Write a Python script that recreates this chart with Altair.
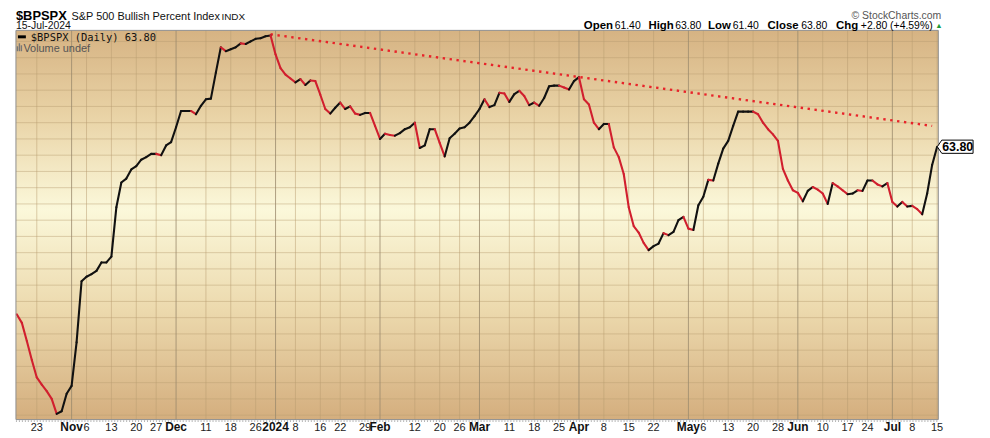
import altair as alt
import pandas as pd

# ---------------- data ----------------
start_idx = -4  # trading-day index of first close (Oct 17, 2023); 0 = Oct 23, 2023
closes = [
    38.0, 36.7, 33.9, 31.0, 28.3, 27.2, 26.2, 25.0, 22.7, 23.1,
    25.8, 27.0, 33.7, 43.1, 43.8, 44.2, 44.7, 46.0, 46.0, 46.9,
    54.5, 58.3, 58.9, 60.3, 60.8, 61.8, 62.2, 62.7, 62.7, 62.5,
    64.0, 64.5, 66.8, 69.3, 69.3, 69.3, 68.8, 70.1, 71.1, 71.2,
    75.2, 79.1, 78.5, 78.8, 79.1, 79.7, 79.6, 80.0, 80.4, 80.5,
    80.8, 80.9, 78.0, 75.9, 74.9, 74.3, 73.7, 74.2, 73.3, 74.0,
    73.9, 71.8, 69.6, 68.9, 69.8, 70.6, 69.6, 70.0, 68.9, 68.7,
    69.0, 69.0, 67.0, 65.0, 65.8, 65.6, 65.5, 65.9, 66.5, 66.8,
    67.5, 63.6, 64.0, 66.5, 66.5, 64.4, 62.3, 65.1, 65.8, 66.6,
    66.8, 67.5, 68.5, 69.6, 71.1, 69.9, 70.2, 72.1, 72.0, 70.7,
    71.9, 72.4, 71.6, 70.2, 70.6, 70.1, 71.3, 73.1, 73.2, 73.2,
    72.9, 72.6, 73.9, 74.5, 71.1, 70.3, 67.5, 66.5, 67.3, 67.3,
    63.7, 62.2, 59.6, 54.5, 51.6, 50.6, 49.0, 47.9, 48.5, 48.9,
    50.5, 50.2, 50.7, 52.5, 53.0, 51.2, 51.0, 54.8, 56.1, 58.7,
    58.6, 61.2, 63.5, 64.7, 67.0, 69.2, 69.2, 69.2, 69.2, 68.8,
    67.5, 66.5, 65.7, 64.7, 60.4, 58.6, 57.1, 56.7, 55.4, 57.0,
    57.6, 57.2, 56.6, 55.0, 58.2, 57.7, 57.1, 56.5, 56.6, 57.1,
    57.0, 58.6, 58.6, 58.0, 57.7, 58.2, 55.3, 54.6, 55.3, 54.6,
    54.7, 54.2, 53.4, 56.6, 61.0, 63.8,
]

tick_idx = [0, 7, 10, 15, 20, 24, 28, 34, 39, 44, 48, 52, 57, 61, 66, 69, 76, 81, 85,
            89, 95, 100, 105, 109, 114, 119, 124, 131, 134, 139, 144, 149, 153, 158,
            163, 167, 172, 176, 181]
tick_lab = ["23", "Nov", "6", "13", "20", "27", "Dec", "11", "18", "26", "2024", "8",
            "16", "22", "29", "Feb", "12", "20", "26", "Mar", "11", "18", "25", "Apr",
            "8", "15", "22", "May", "6", "13", "20", "28", "Jun", "10", "17", "24",
            "Jul", "8", "15"]
month_labels = ["Nov", "Dec", "2024", "Feb", "Mar", "Apr", "May", "Jun", "Jul"]

y_ticks = [22.5, 25.0, 27.5, 30.0, 32.5, 35.0, 37.5, 40.0, 42.5, 45.0, 47.5, 50.0,
           52.5, 55.0, 57.5, 60.0, 62.5, 65.0, 67.5, 70.0, 72.5, 75.0, 77.5, 80.0]

trend_x = [47, 180]
trend_y = [81.1, 67.0]

last_close = 63.80

# ---------------- layout ----------------
W, H = 929, 392
XDOM = [-4.19, 181.24]
YDOM = [21.82, 81.70]
FONT = "Liberation Sans"
RED = "#d11f2e"

xs = alt.Scale(domain=XDOM, nice=False, zero=False)
ys = alt.Scale(domain=YDOM, nice=False, zero=False)

idx = list(range(start_idx, start_idx + len(closes)))
seg = pd.DataFrame({
    "x": idx[:-1], "x2": idx[1:],
    "y": closes[:-1], "y2": closes[1:],
})
seg["dir"] = ["up" if b >= a else "down" for a, b in zip(closes[:-1], closes[1:])]

ticks = pd.DataFrame({"idx": tick_idx, "lab": tick_lab})
ticks["month"] = ticks["lab"].isin(month_labels)
hgrid = pd.DataFrame({"v": y_ticks})
trend = pd.DataFrame({"x": trend_x, "y": trend_y})
one = pd.DataFrame({"a": [0]})

bg = alt.Chart(one).mark_rect(
    fill=alt.Gradient(
        gradient="linear", x1=0, x2=0, y1=0, y2=1,
        stops=[alt.GradientStop(color="#d6b383", offset=0),
               alt.GradientStop(color="#e9d3a6", offset=0.22),
               alt.GradientStop(color="#fbf8da", offset=0.46),
               alt.GradientStop(color="#ecd9ad", offset=0.72),
               alt.GradientStop(color="#d4ae7e", offset=1)])
).encode(x=alt.value(0), x2=alt.value(W), y=alt.value(0), y2=alt.value(H))

hlines = alt.Chart(hgrid).mark_rule(color="#b89d70", strokeWidth=1, opacity=0.45).encode(
    y=alt.Y("v:Q", scale=ys, axis=alt.Axis(
        orient="right", values=y_ticks, format=".1f", grid=False, domain=False,
        tickSize=4, tickColor="#555", labelFont=FONT, labelFontSize=11.5,
        labelColor="#222", labelPadding=1, title=None)),
)

vlines_minor = alt.Chart(ticks[~ticks["month"]]).mark_rule(
    color="#b89d70", strokeWidth=1, opacity=0.5).encode(
    x=alt.X("idx:Q", scale=xs, axis=None))
vlines_major = alt.Chart(ticks[ticks["month"]]).mark_rule(
    color="#9a8a6c", strokeWidth=1, opacity=0.8).encode(
    x=alt.X("idx:Q", scale=xs, axis=None))

lab_norm = alt.Chart(ticks[~ticks["month"]]).mark_text(
    font=FONT, fontSize=11, color="#222", baseline="alphabetic", align="center"
).encode(x=alt.X("idx:Q", scale=xs, axis=None), y=alt.value(H + 12), text="lab:N")
lab_bold = alt.Chart(ticks[ticks["month"]]).mark_text(
    font=FONT, fontSize=12, fontWeight="bold", color="#111", baseline="alphabetic",
    align="center"
).encode(x=alt.X("idx:Q", scale=xs, axis=None), y=alt.value(H + 12), text="lab:N")

trend_line = alt.Chart(trend).mark_line(
    color="#e8232a", strokeWidth=2.4, strokeDash=[2.4, 4.6]
).encode(x=alt.X("x:Q", scale=xs, axis=None), y=alt.Y("y:Q", scale=ys, axis=None))

price = alt.Chart(seg).mark_rule(strokeWidth=2.1, strokeCap="round").encode(
    x=alt.X("x:Q", scale=xs, axis=None), x2="x2:Q",
    y=alt.Y("y:Q", scale=ys, axis=None), y2="y2:Q",
    color=alt.Color("dir:N", scale=alt.Scale(domain=["up", "down"],
                                             range=["#111111", RED]), legend=None),
)

frame = alt.Chart(one).mark_rect(fillOpacity=0, stroke="#8f8f8f", strokeWidth=1).encode(
    x=alt.value(0), x2=alt.value(W), y=alt.value(0), y2=alt.value(H))
bottom_dots = alt.Chart(one).mark_rule(
    color="#7a7a7a", strokeWidth=1, strokeDash=[1, 2]).encode(
    x=alt.value(0), x2=alt.value(W), y=alt.value(H + 1.5))

box_path = "M-1,0 L-0.75,-0.37 L1,-0.37 L1,0.37 L-0.75,0.37 Z"
last_df = pd.DataFrame({"v": [last_close], "t": [f"{last_close:.2f}"]})
last_box = alt.Chart(last_df).mark_point(
    shape=box_path, size=1296, filled=True, fill="white", stroke="#000",
    strokeWidth=1, opacity=1
).encode(x=alt.value(W + 17), y=alt.Y("v:Q", scale=ys, axis=None))
last_txt = alt.Chart(last_df).mark_text(
    font=FONT, fontSize=12.5, fontWeight="bold", color="#000", align="center",
    baseline="middle", dy=0.5
).encode(x=alt.value(W + 19.5), y=alt.Y("v:Q", scale=ys, axis=None), text="t:N")


def txt(s, x, y, size, weight="normal", color="#000", font=FONT, align="left"):
    return alt.Chart(one).mark_text(
        text=s, font=font, fontSize=size, fontWeight=weight, color=color,
        align=align, baseline="alphabetic"
    ).encode(x=alt.value(x), y=alt.value(y))


TOP = -10      # baseline of the title row (plot coords)
ROW2 = -1.5    # baseline of the date / OHLC row
header = [
    txt("$BPSPX", 0, TOP, 13, "bold", "#000"),
    txt("S&P 500 Bullish Percent Index", 56, TOP - 0.5, 11, "normal", "#111"),
    txt("INDX", 207, TOP - 0.5, 10, "normal", "#111"),
    txt("15-Jul-2024", 0, ROW2, 10.5, "normal", "#111"),
    txt("\u00a9 StockCharts.com", 932, TOP - 1, 10.5, "normal", "#555", align="right"),
    txt("Open", 572, ROW2, 11.5, "bold"),
    txt("61.40", 603, ROW2, 10.5),
    txt("High", 637, ROW2, 11.5, "bold"),
    txt("63.80", 664, ROW2, 10.5),
    txt("Low", 697, ROW2, 11.5, "bold"),
    txt("61.40", 722, ROW2, 10.5),
    txt("Close", 757, ROW2, 11.5, "bold"),
    txt("63.80", 791, ROW2, 10.5),
    txt("Chg", 826, ROW2, 11.5, "bold"),
    txt("+2.80 (+4.59%)", 851, ROW2, 10.5),
    txt("\u25b2", 926, ROW2 - 0.5, 7.5, "normal", "#1e9a3a"),
    # in-plot legend
    txt("$BPSPX (Daily) 63.80", 15, 10.5, 10.5, "normal", "#111", font="DejaVu Sans Mono"),
    txt("Volume undef", 7.5, 21.5, 11, "normal", "#555"),
]

leg_dash = alt.Chart(one).mark_rule(color="#000", strokeWidth=3).encode(
    x=alt.value(2), x2=alt.value(10), y=alt.value(6.5))
vol_icon = alt.Chart(pd.DataFrame({"px": [1.5, 3.5, 5.5], "top": [16, 13, 15]})).mark_rule(
    color="#777", strokeWidth=1.4).encode(
    x=alt.X("px:Q", scale=None, axis=None), y=alt.Y("top:Q", scale=None, axis=None),
    y2=alt.value(21))

chart = alt.layer(
    bg, hlines, vlines_minor, vlines_major, trend_line, price, frame, bottom_dots,
    lab_norm, lab_bold, last_box, last_txt, leg_dash, vol_icon, *header
).resolve_scale(x="shared", y="shared").properties(
    width=W, height=H,
    autosize=alt.AutoSizeParams(type="none"),
    padding={"left": 8, "top": 21, "right": 44, "bottom": 16},
    background="white",
).configure_view(stroke=None)

chart.save("out.html", embed_options={"renderer": "svg", "actions": False})
